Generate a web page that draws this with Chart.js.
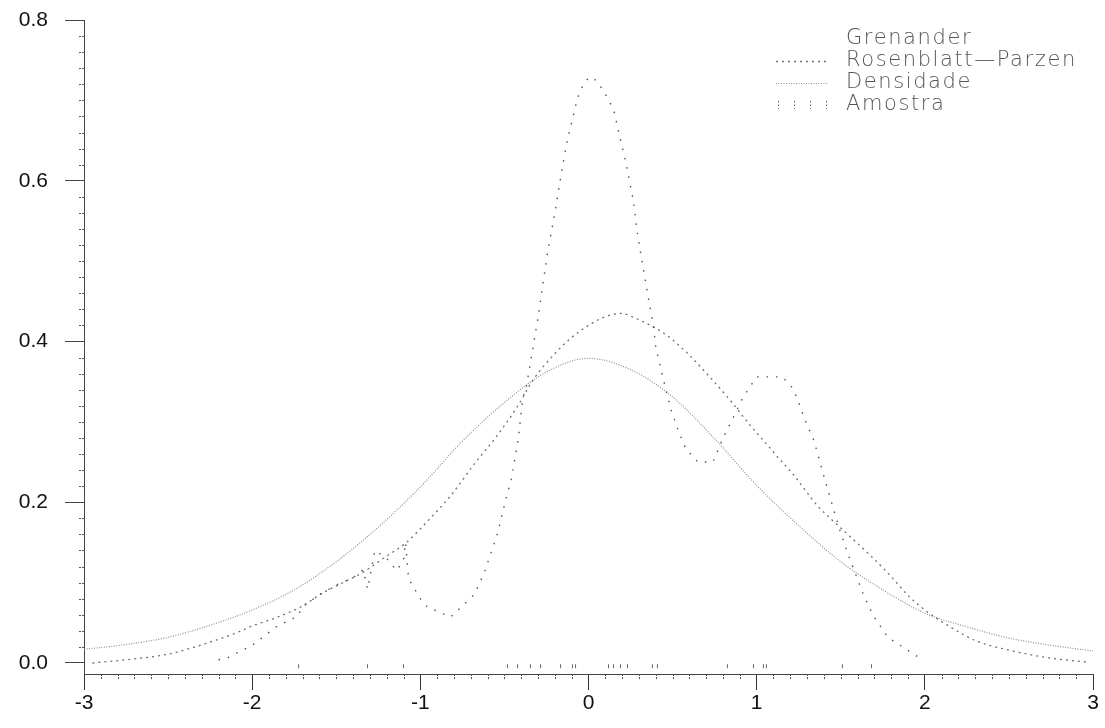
<!DOCTYPE html>
<html>
<head>
<meta charset="utf-8">
<script src="https://cdn.jsdelivr.net/npm/chart.js@4/dist/chart.umd.min.js"></script>
<style>
html,body{margin:0;padding:0;background:#fff;}
#wrap{width:1105px;height:728px;}
</style>
</head>
<body>
<div id="wrap"><canvas id="c" width="1105" height="728"></canvas></div>
<script>
// ---- data ----
const xTicks = [-3, -2, -1, 0, 1, 2, 3];
const yTicks = [0.0, 0.2, 0.4, 0.6, 0.8];
const seriesNames = ['Grenander', 'Rosenblatt\u2014Parzen', 'Densidade', 'Amostra'];

const grenX = [-2.2, -2.15, -2.0, -1.85, -1.73, -1.70, -1.60, -1.50, -1.40, -1.34, -1.314, -1.27, -1.20, -1.14, -1.10, -1.088, -1.07, -1.00, -0.96, -0.82, -0.68, -0.62, -0.54, -0.49, -0.46, -0.42, -0.39, -0.37, -0.30, -0.244, -0.20, -0.16, -0.125, -0.095, -0.065, -0.03, 0.0, 0.03, 0.083, 0.149, 0.19, 0.22, 0.268, 0.29, 0.31, 0.351, 0.387, 0.40, 0.428, 0.458, 0.488, 0.529, 0.577, 0.65, 0.74, 0.80, 0.862, 0.92, 1.0, 1.153, 1.21, 1.24, 1.28, 1.34, 1.41, 1.49, 1.54, 1.635, 1.69, 1.78, 1.96];
const grenY = [0.004, 0.006, 0.022, 0.046, 0.058, 0.070, 0.085, 0.097, 0.106, 0.116, 0.092, 0.140, 0.130, 0.115, 0.128, 0.150, 0.105, 0.080, 0.070, 0.057, 0.085, 0.112, 0.162, 0.205, 0.228, 0.275, 0.330, 0.343, 0.43, 0.51, 0.56, 0.611, 0.651, 0.677, 0.703, 0.72, 0.728, 0.728, 0.714, 0.689, 0.651, 0.625, 0.574, 0.536, 0.51, 0.46, 0.418, 0.393, 0.368, 0.342, 0.317, 0.292, 0.267, 0.25, 0.25, 0.28, 0.306, 0.331, 0.356, 0.356, 0.343, 0.33, 0.306, 0.277, 0.225, 0.168, 0.137, 0.085, 0.06, 0.032, 0.0075];

const rpX = [-2.95, -2.75, -2.5, -2.34, -2.25, -2.1, -2.0, -1.85, -1.7, -1.59, -1.46, -1.34, -1.2, -1.088, -0.95, -0.82, -0.67, -0.55, -0.42, -0.33, -0.2, -0.1, 0.0, 0.09, 0.19, 0.3, 0.45, 0.55, 0.6, 0.725, 0.85, 0.96, 1.04, 1.13, 1.22, 1.3, 1.36, 1.5, 1.66, 1.78, 1.91, 2.0, 2.15, 2.3, 2.5, 2.75, 2.97];
const rpY = [0.0, 0.004, 0.011, 0.020, 0.026, 0.037, 0.046, 0.057, 0.071, 0.086, 0.100, 0.113, 0.133, 0.149, 0.178, 0.208, 0.25, 0.281, 0.32, 0.352, 0.385, 0.405, 0.42, 0.43, 0.435, 0.427, 0.41, 0.393, 0.383, 0.355, 0.325, 0.296, 0.277, 0.255, 0.234, 0.212, 0.196, 0.168, 0.137, 0.112, 0.082, 0.066, 0.045, 0.028, 0.016, 0.006, 0.001];

const densX = [-3, -2.75, -2.5, -2.25, -2, -1.75, -1.5, -1.25, -1, -0.75, -0.5, -0.25, 0, 0.25, 0.5, 0.75, 1, 1.25, 1.5, 1.75, 2, 2.25, 2.5, 2.75, 3];
const densY = [0.017, 0.023, 0.032, 0.047, 0.066, 0.091, 0.126, 0.169, 0.219, 0.276, 0.324, 0.362, 0.379, 0.365, 0.331, 0.279, 0.221, 0.171, 0.126, 0.091, 0.062, 0.045, 0.031, 0.022, 0.015];

const amostra = [-1.724, -1.314, -1.100, -0.482, -0.422, -0.345, -0.285, -0.166, -0.095, -0.077, 0.119, 0.149, 0.190, 0.232, 0.380, 0.410, 0.826, 0.981, 1.040, 1.058, 1.510, 1.683];
const rugLevel = -0.004;

const pts = (xs, ys) => xs.map((x, i) => ({x: x, y: ys[i]}));

// ---- plugins ----
const minorTicks = {
  id: 'minorTicks',
  afterDraw(chart) {
    const ctx = chart.ctx, xs = chart.scales.x, ys = chart.scales.y;
    ctx.save();
    ctx.strokeStyle = '#555';
    ctx.lineWidth = 1;
    ctx.setLineDash([2, 1]);
    for (let i = -30; i <= 30; i++) {
      if (i % 10 === 0) continue;
      const px = Math.round(xs.getPixelForValue(i / 10)) + 0.5;
      ctx.beginPath(); ctx.moveTo(px, xs.top); ctx.lineTo(px, xs.top + 6); ctx.stroke();
    }
    for (let i = 0; i <= 40; i++) {
      if (i % 10 === 0) continue;
      const py = Math.round(ys.getPixelForValue(i * 0.02)) + 0.5;
      ctx.beginPath(); ctx.moveTo(ys.right, py); ctx.lineTo(ys.right - 5, py); ctx.stroke();
    }
    ctx.restore();
  }
};

const customLegend = {
  id: 'customLegend',
  afterDraw(chart) {
    const ctx = chart.ctx;
    const x0 = 776, x1 = 828, tx = 846, rowY = [39, 61, 83, 105];
    ctx.save();
    ctx.font = '300 21px "DejaVu Sans"';
    ctx.fillStyle = '#555';
    ctx.textBaseline = 'middle';
    ctx.textAlign = 'left';
    try { ctx.letterSpacing = '1.6px'; } catch (e) {}
    chart.data.datasets.forEach((ds, i) => {
      const y = rowY[i];
      ctx.fillText(ds.label, tx, y);
      ctx.save();
      ctx.strokeStyle = ds.borderColor;
      ctx.lineWidth = ds.borderWidth;
      if (ds.legendSample === 'line') {
        ctx.setLineDash(ds.borderDash || []);
        ctx.beginPath(); ctx.moveTo(x0, y + 0.5); ctx.lineTo(x1, y + 0.5); ctx.stroke();
      } else if (ds.legendSample === 'rug') {
        ctx.setLineDash([1.5, 2]);
        for (let k = 0; k < 4; k++) {
          const px = x0 + 2 + k * 16 + 0.5;
          ctx.beginPath(); ctx.moveTo(px, y - 4); ctx.lineTo(px, y + 4); ctx.stroke();
        }
      }
      ctx.restore();
    });
    ctx.restore();
  }
};

const tickFont = {family: '"Liberation Sans", Arial, sans-serif', size: 21};

new Chart(document.getElementById('c'), {
  type: 'scatter',
  data: {
    datasets: [
      {label: seriesNames[0], data: pts(grenX, grenY), showLine: true, tension: 0,
       borderColor: '#555', borderWidth: 1.4, borderDash: [1.5, 8], pointRadius: 0, legendSample: 'none'},
      {label: seriesNames[1], data: pts(rpX, rpY), showLine: true, cubicInterpolationMode: 'monotone',
       borderColor: '#707070', borderWidth: 1.3, borderDash: [2, 4], pointRadius: 0, legendSample: 'line'},
      {label: seriesNames[2], data: pts(densX, densY), showLine: true, cubicInterpolationMode: 'monotone',
       borderColor: '#8f8f8f', borderWidth: 1.2, borderDash: [1, 1.5], pointRadius: 0, legendSample: 'line'},
      {label: seriesNames[3], data: amostra.map(x => ({x: x, y: rugLevel})), showLine: false,
       pointStyle: 'line', rotation: 90, pointRadius: 2, borderColor: '#666', borderWidth: 1,
       backgroundColor: '#666', legendSample: 'rug'}
    ]
  },
  options: {
    responsive: false,
    animation: false,
    devicePixelRatio: 1,
    layout: {autoPadding: false, padding: {top: 20, right: 12, left: 0, bottom: 0}},
    plugins: {legend: {display: false}, tooltip: {enabled: false}},
    scales: {
      x: {
        type: 'linear', min: -3, max: 3,
        afterBuildTicks: s => { s.ticks = xTicks.map(v => ({value: v})); },
        afterFit: s => { s.height = 54; s.paddingLeft = 0; s.paddingRight = 0; },
        ticks: {font: tickFont, color: '#111', padding: 1, maxRotation: 0, autoSkip: false,
                callback: v => String(v)},
        grid: {drawOnChartArea: false, drawTicks: true, tickLength: 16, tickColor: '#333', tickWidth: 1},
        border: {display: true, color: '#444', width: 1, dash: [4, 2]}
      },
      y: {
        type: 'linear', min: -0.0137, max: 0.8,
        afterBuildTicks: s => { s.ticks = yTicks.map(v => ({value: v})); },
        afterFit: s => { s.width = 84; s.paddingTop = 0; s.paddingBottom = 0; },
        ticks: {font: tickFont, color: '#111', padding: 17, autoSkip: false,
                callback: v => Number(v).toFixed(1)},
        grid: {drawOnChartArea: false, drawTicks: true, tickLength: 19, tickColor: '#444', tickWidth: 1},
        border: {display: true, color: '#444', width: 1, dash: [4, 2]}
      }
    }
  },
  plugins: [minorTicks, customLegend]
});
</script>
</body>
</html>
